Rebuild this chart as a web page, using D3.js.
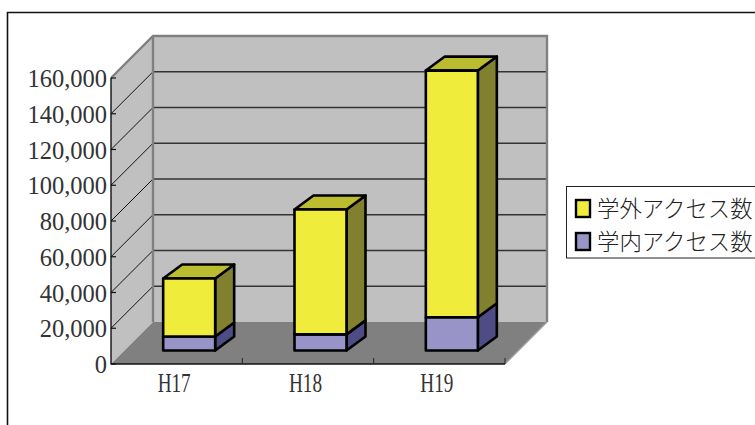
<!DOCTYPE html>
<html><head><meta charset="utf-8">
<script src="https://cdn.jsdelivr.net/npm/d3@7"></script>
<style>html,body{margin:0;padding:0;background:#fff;overflow:hidden}svg{display:block}</style>
</head><body><svg id="c" width="755" height="425"></svg>
<script>
const categories = ["H17","H18","H19"];
const insideAccess = [7800, 9000, 18600];
const outsideAccess = [32500, 69900, 138000];
const yTicks = [0,20000,40000,60000,80000,100000,120000,140000,160000];
const legendLabels = ["学外アクセス数","学内アクセス数"];

const svg = d3.select("#c");
const serif = "'Liberation Serif',serif";
const depth = 42, barOffX = 12.5, barOffY = 13.5, barDX = 19, barDY = 14, barW = 52;
const y = d3.scaleLinear().domain([0,160000]).range([364,78]);
const x = d3.scaleBand().domain(categories).range([111,505]);
const poly = pts => pts.map(p=>p.join(",")).join(" ");

// frame
svg.append("path").attr("d","M7.5,425V12.5H755").attr("fill","none").attr("stroke","#111").attr("stroke-width",1.6);

// walls and floor
svg.append("polygon").attr("points",poly([[111,y(160000)],[111+depth,y(160000)-depth],[111+depth,y(0)-depth],[111,y(0)]])).attr("fill","#c0c0c0");
svg.append("rect").attr("x",111+depth).attr("y",y(160000)-depth).attr("width",394).attr("height",286).attr("fill","#c0c0c0");
svg.append("polygon").attr("points",poly([[111,y(0)],[111+depth,y(0)-depth],[505+depth,y(0)-depth],[505,y(0)]])).attr("fill","#808080");

// gridlines
yTicks.slice(1,-1).forEach(v=>{
  svg.append("line").attr("x1",111+depth).attr("x2",505+depth).attr("y1",y(v)-depth).attr("y2",y(v)-depth).attr("stroke","#333").attr("stroke-width",1.5);
  svg.append("line").attr("x1",111).attr("x2",111+depth).attr("y1",y(v)).attr("y2",y(v)-depth).attr("stroke","#111").attr("stroke-width",1);
});
// wall edges
svg.append("path").attr("d",`M111,${y(160000)}L${111+depth},${y(160000)-depth}H${505+depth}V${y(0)-depth}`).attr("fill","none").attr("stroke","#808080").attr("stroke-width",2.4);
svg.append("line").attr("x1",111+depth).attr("x2",111+depth).attr("y1",y(160000)-depth).attr("y2",y(0)-depth).attr("stroke","#808080").attr("stroke-width",2.4);
svg.append("line").attr("x1",505).attr("x2",505+depth).attr("y1",y(0)).attr("y2",y(0)-depth).attr("stroke","#a0a0a0").attr("stroke-width",1.4);

// axes
svg.append("line").attr("x1",111).attr("x2",111).attr("y1",y(160000)).attr("y2",y(0)+0.5).attr("stroke","#111").attr("stroke-width",1.4);
svg.append("line").attr("x1",111).attr("x2",505).attr("y1",y(0)).attr("y2",y(0)).attr("stroke","#111").attr("stroke-width",1.4);
yTicks.forEach(v=>{
  svg.append("line").attr("x1",111).attr("x2",116).attr("y1",y(v)).attr("y2",y(v)).attr("stroke","#111").attr("stroke-width",1.2);
  svg.append("text").attr("x",107).attr("y",y(v)+9).attr("text-anchor","end")
    .attr("font-family",serif).attr("font-size",24.5).attr("fill","#333").text(d3.format(",")(v));
});
[1,2,3].forEach(i=>{
  const tx = 111+x.step()*i;
  svg.append("line").attr("x1",tx).attr("x2",tx).attr("y1",358).attr("y2",364).attr("stroke","#222").attr("stroke-width",1);
});
categories.forEach(c=>{
  const tx = x(c)+x.bandwidth()/2-19;
  svg.append("text").attr("transform",`translate(${tx},392) scale(0.8,1.12)`)
    .attr("font-family",serif).attr("font-size",24).attr("fill","#333").text(c);
});

// 3D stacked bars
function box(left, v0, v1, front, top, side){
  const l = left, r = left+barW, b = y(v0)-barOffY, t = y(v1)-barOffY;
  const g = svg.append("g").attr("stroke","#000").attr("stroke-width",2.6).attr("stroke-linejoin","round");
  g.append("polygon").attr("points",poly([[r,b],[r+barDX,b-barDY],[r+barDX,t-barDY],[r,t]])).attr("fill",side);
  if(top) g.append("polygon").attr("points",poly([[l,t],[l+barDX,t-barDY],[r+barDX,t-barDY],[r,t]])).attr("fill",top);
  g.append("rect").attr("x",l).attr("y",t).attr("width",barW).attr("height",b-t).attr("fill",front);
}
categories.forEach((c,i)=>{
  const left = x(c)+x.bandwidth()/2-barW/2+barOffX;
  box(left,0,insideAccess[i],"#9894c8",null,"#4e4c84");
  box(left,insideAccess[i],insideAccess[i]+outsideAccess[i],"#f0ec3c","#bcbc30","#80802f");
});

// legend
svg.append("rect").attr("x",566.5).attr("y",186.5).attr("width",200).attr("height",71.5).attr("fill","#fff").attr("stroke","#222").attr("stroke-width",1);
const swatches = ["#f0ec3c","#9894c8"];
legendLabels.forEach((t,i)=>{
  const yy = 200+i*33;
  svg.append("rect").attr("x",576).attr("y",yy).attr("width",14).attr("height",17).attr("fill",swatches[i]).attr("stroke","#000").attr("stroke-width",2.4);
  svg.append("text").attr("x",597).attr("y",yy+17).attr("font-family","'Noto Sans CJK JP'").attr("font-weight",300)
    .attr("font-size",22.4).attr("fill","#222").text(t);
});
</script></body></html>
